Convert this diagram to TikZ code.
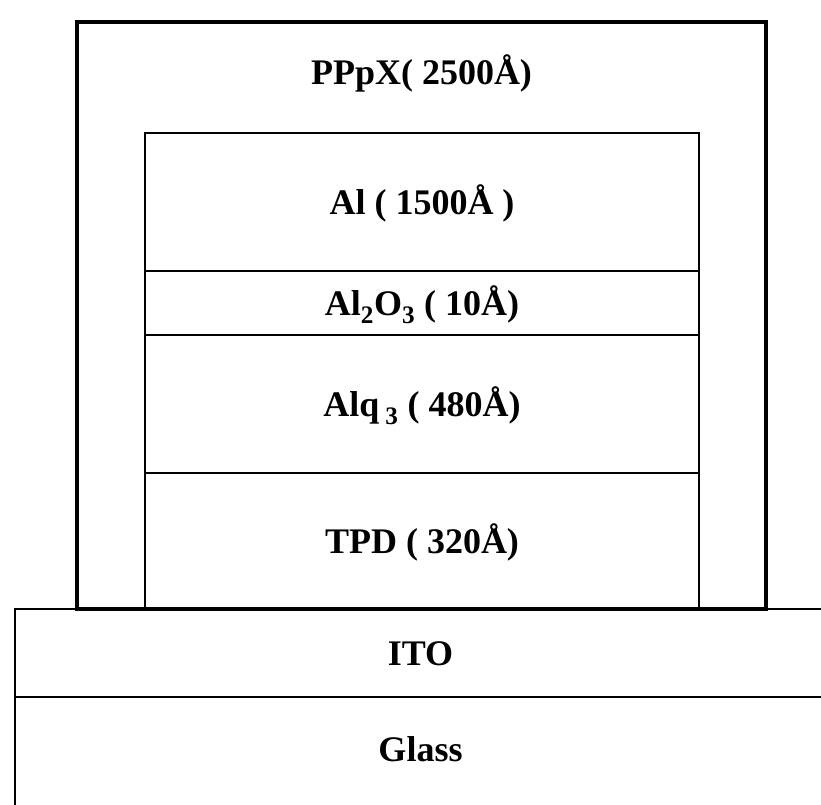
\documentclass[tikz,border=0pt]{standalone}
\usepackage{fontspec}
\setmainfont{Liberation Serif}
\usetikzlibrary{positioning}

\begin{document}
\begin{tikzpicture}[
        x=1pt, y=-1pt,
        node distance=0pt,
        lbl/.style={inner sep=0pt, outer sep=0pt, text height=24pt, text depth=0pt,
                    font=\fontsize{36}{40}\selectfont\bfseries},
        layer/.style={lbl, rectangle, draw=black, line width=2.5pt,
                      minimum width=554pt},
        subst/.style={layer, minimum width=811pt},
        coat/.style={rectangle, draw=black, line width=4pt, inner sep=0pt, outer sep=0pt,
                     minimum width=689pt, minimum height=587pt}
      ]
        \path[use as bounding box, fill=white] (0,0) rectangle (821,804);
        % encapsulation over the whole stack
        \node[coat, anchor=north west] (ppx) at (77,22) {};
        \node[lbl] (ppxlbl) at ([yshift=-50pt]ppx.north) {PPpX( 2500Å)};
        % substrate
        \node[subst, minimum height=88pt, anchor=north west] (ito) at (15,609) {ITO};
        \node[subst, minimum height=120pt, text depth=16pt, below=of ito] (glass) {Glass};
        % device layers
        \node[layer, minimum height=138pt, anchor=north] (al) at (422,133) {Al ( 1500Å )};
        \node[layer, minimum height=64pt, below=of al] (alox) {Al\textsubscript{2}O\textsubscript{3} ( 10Å)};
        \node[layer, minimum height=138pt, below=of alox] (alq) {Alq\,\textsubscript{3} ( 480Å)};
        \node[layer, minimum height=136pt, below=of alq] (tpd) {TPD ( 320Å)};
      \end{tikzpicture}
\end{document}
